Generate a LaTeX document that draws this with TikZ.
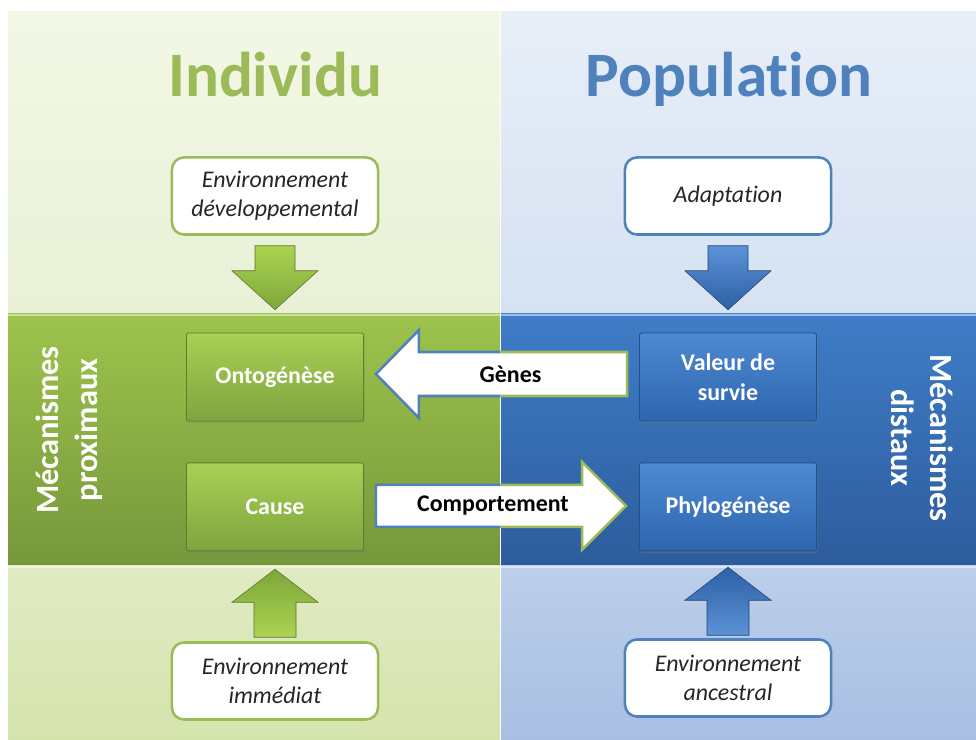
\documentclass[tikz,border=0pt]{standalone}
\usepackage{fontspec}
\setmainfont{Carlito}[Ligatures=NoCommon]
\usepackage{tikz}
\usetikzlibrary{positioning,calc,shadows}
\newcommand{\definitions}{%
  % colours of the Individu column
  \definecolor{colInd}{HTML}{9BBB59}
  \definecolor{colIndTop}{HTML}{F3F8E6}
  \definecolor{colIndMid}{HTML}{E8F0D6}
  \definecolor{colIndLow}{HTML}{E0EBC2}
  \definecolor{colIndLowEnd}{HTML}{D5E3AC}
  \definecolor{colIndBand}{HTML}{9DC44C}
  \definecolor{colIndBandEnd}{HTML}{76973B}
  \definecolor{colIndBox}{HTML}{A8D055}
  \definecolor{colIndBoxEnd}{HTML}{7FA43E}
  \definecolor{colIndEdge}{HTML}{5E7E2C}
  \definecolor{colIndArr}{HTML}{7DA63A}
  \definecolor{colIndArrLight}{HTML}{ABD451}
  % colours of the Population column
  \definecolor{colPop}{HTML}{4F81BD}
  \definecolor{colPopTop}{HTML}{E7EEF8}
  \definecolor{colPopMid}{HTML}{D6E2F2}
  \definecolor{colPopLow}{HTML}{BCCFEA}
  \definecolor{colPopLowEnd}{HTML}{A8BFE3}
  \definecolor{colPopBand}{HTML}{3F7DC7}
  \definecolor{colPopBandEnd}{HTML}{2D5C9D}
  \definecolor{colPopBox}{HTML}{4D89D2}
  \definecolor{colPopBoxEnd}{HTML}{2E66AE}
  \definecolor{colPopEdge}{HTML}{234F8A}
  \definecolor{colPopArr}{HTML}{2D5FA5}
  \definecolor{colPopArrLight}{HTML}{5B93D6}

  % bevelled vertical arrows, given the centre of their tail
  \def\arrDown##1{($(##1)+(-20,0)$) -- ++(40,0) -- ++(0,25) -- ++(23,0)
    -- ++(-43,39) -- ++(-43,-39) -- ++(23,0) -- cycle}
  \def\arrUp##1{($(##1)+(-21,0)$) -- ++(42,0) -- ++(0,-35) -- ++(22,0)
    -- ++(-43,-33) -- ++(-43,33) -- ++(22,0) -- cycle}
  % block arrow of the genes (right to left)
  \def\arrGenes{(gTip) -- ++(43,-44) -- ++(0,22) -- ($(gTail)+(0,-22)$)
    -- ($(gTail)+(0,22)$) -- ($(gTip)+(43,22)$) -- ++(0,22) -- cycle}
  % block arrow of the behaviour (left to right)
  \def\arrComport{($(cTail)+(0,-21)$) -- ($(cTip)+(-44,-21)$) -- ++(0,-23)
    -- (cTip) -- ($(cTip)+(-44,44)$) -- ++(0,-23) -- ($(cTail)+(0,21)$) -- cycle}
}
\tikzset{
  title/.style={font=\fontsize{45}{54}\selectfont\bfseries, anchor=base},
  envbox/.style={draw, line width=1.8pt, fill=white, rounded corners=0.3cm,
    minimum width=5.15cm, minimum height=1.925cm, align=center,
    text=black!85, font=\fontsize{17}{20.5}\selectfont\itshape},
  mechbox/.style={draw, line width=0.6pt, rounded corners=1.5pt, minimum width=4.425cm,
    minimum height=2.2cm, align=center, text=white,
    font=\fontsize{17}{21}\selectfont\bfseries,
    drop shadow={opacity=0.35, shadow xshift=0.8pt, shadow yshift=-1.4pt}},
  sidelabel/.style={text=white, align=center, font=\fontsize{23}{28}\selectfont\bfseries},
  blockedge/.style={line width=1.8pt, line join=miter},
  arrowlabel/.style={font=\fontsize{17}{20.5}\selectfont\bfseries}
}
\begin{document}
\begin{tikzpicture}[x=0.025cm, y=-0.025cm]

  % define colours and shapes
  \definitions
  \useasboundingbox (0,0) rectangle (976,740);

  % fill both columns from top to bottom
  \shade[top color=colIndTop, bottom color=colIndMid] (8,12) rectangle (500,314);
  \shade[top color=colIndBand, bottom color=colIndBandEnd] (8,314) rectangle (500,566);
  \shade[top color=colIndLow, bottom color=colIndLowEnd] (8,566) rectangle (500,740);
  \shade[top color=colPopTop, bottom color=colPopMid] (501,12) rectangle (976,314);
  \shade[top color=colPopBand, bottom color=colPopBandEnd] (501,314) rectangle (976,566);
  \shade[top color=colPopLow, bottom color=colPopLowEnd] (501,566) rectangle (976,740);
  \draw[white, opacity=.5, line width=1pt] (8,315) -- (976,315) (8,567) -- (976,567);
  \draw[white, opacity=.6, line width=.6pt] (500.5,12) -- (500.5,740);

  % column titles
  \node[title, text=colInd] (Ind) at (275,97) {Individu};
  \node[title, text=colPop] (Pop) at (729,97) {Population};

  % environment boxes
  \node[envbox, draw=colInd] (envDev) at (275,196) {Environnement\\développemental};
  \node[envbox, draw=colPop] (adapt) at (728,196) {Adaptation};
  \node[envbox, draw=colInd] (envImm) at (275,681) {Environnement\\immédiat};
  \node[envbox, draw=colPop] (envAnc) at (728,678) {Environnement\\ancestral};

  % mechanism boxes
  \node[mechbox, draw=colIndEdge, top color=colIndBox, bottom color=colIndBoxEnd]
    (onto) at (275,377) {Ontogénèse};
  \node[mechbox, draw=colIndEdge, top color=colIndBox, bottom color=colIndBoxEnd]
    (cause) [below=1.025cm of onto] {Cause};
  \node[mechbox, draw=colPopEdge, top color=colPopBox, bottom color=colPopBoxEnd]
    (valeur) at (728,377) {Valeur de\\survie};
  \node[mechbox, draw=colPopEdge, top color=colPopBox, bottom color=colPopBoxEnd]
    (phylo) [below=1.025cm of valeur] {Phylogénèse};

  % side labels
  \node[sidelabel, rotate=90] (proxi) at (69,430) {Mécanismes\\proximaux};
  \node[sidelabel, rotate=-90] (dist) at (922,438) {Mécanismes\\distaux};

  % vertical arrows from the environments
  \coordinate (dInd) at ($(envDev.south)+(0,10)$);
  \coordinate (dPop) at ($(adapt.south)+(0,10)$);
  \coordinate (uInd) at ($(envImm.north)+(0,-4)$);
  \coordinate (uPop) at ($(envAnc.north)+(0,-3)$);
  \shade[top color=colIndArrLight, bottom color=colIndArr, draw=colIndArr!70!black, line width=.4pt] \arrDown{dInd};
  \shade[top color=colPopArrLight, bottom color=colPopArr, draw=colPopArr!70!black, line width=.4pt] \arrDown{dPop};
  \shade[top color=colIndArr, bottom color=colIndArrLight, draw=colIndArr!70!black, line width=.4pt] \arrUp{uInd};
  \shade[top color=colPopArr, bottom color=colPopArrLight, draw=colPopArr!70!black, line width=.4pt] \arrUp{uPop};

  % block arrows between the columns
  \coordinate (gTip) at ($(onto.east)+(12,-3)$);
  \coordinate (gTail) at ($(valeur.west)+(-12,-3)$);
  \coordinate (cTail) at ($(cause.east)+(12,-1)$);
  \coordinate (cTip) at ($(phylo.west)+(-13,-1)$);
  \fill[white] \arrGenes;
  \fill[white] \arrComport;
  \begin{scope}
    \clip (0,0) rectangle (500.5,740);
    \draw[blockedge, draw=colPop] \arrGenes;
    \draw[blockedge, draw=colPop] \arrComport;
  \end{scope}
  \begin{scope}
    \clip (500.5,0) rectangle (976,740);
    \draw[blockedge, draw=colInd] \arrGenes;
    \draw[blockedge, draw=colInd] \arrComport;
  \end{scope}

  % labels of the block arrows
  \node[arrowlabel] (genes) at ($(gTip)!0.5!(gTail)+(9,0)$) {Gènes};
  \node[arrowlabel] (comport) at ($(cTail)!0.5!(cTip)+(-8,0)$) {Comportement};

\end{tikzpicture}
\end{document}
